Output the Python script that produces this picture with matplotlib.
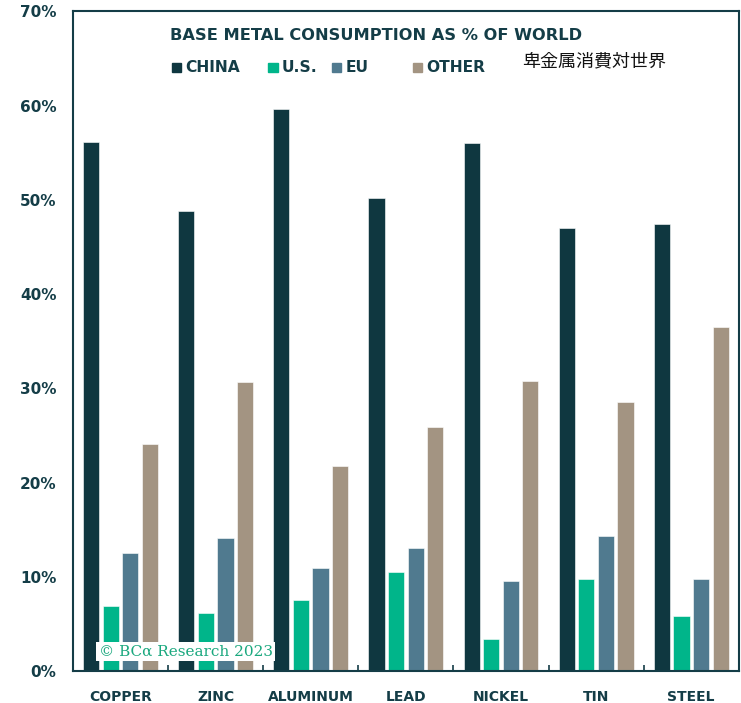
import matplotlib
matplotlib.use("Agg")
import matplotlib.pyplot as plt
import numpy as np

metals = ["COPPER", "ZINC", "ALUMINUM", "LEAD", "NICKEL", "TIN", "STEEL"]
china = [56.1, 48.8, 59.6, 50.2, 56.0, 47.0, 47.4]
us = [6.9, 6.2, 7.5, 10.5, 3.4, 9.8, 5.8]
eu = [12.5, 14.1, 10.9, 13.1, 9.5, 14.3, 9.8]
other = [24.1, 30.7, 21.7, 25.9, 30.8, 28.5, 36.5]
series_names = ["CHINA", "U.S.", "EU", "OTHER"]
yticks = [0, 10, 20, 30, 40, 50, 60, 70]

colors = ["#0f3740", "#00b58a", "#507a8f", "#a39482"]
txt = "#143d47"
FONT = "DejaVu Sans"

fig = plt.figure(figsize=(7.41, 7.03), dpi=100)
ax = fig.add_axes([0.0985, 0.0455, 0.8985, 0.9385])

x = np.arange(len(metals))
step = 0.206
width = 0.17
for i, (vals, c, name) in enumerate(zip([china, us, eu, other], colors, series_names)):
    ax.bar(x + (i - 1.5) * step, vals, width=width, color=c, label=name,
           edgecolor="white", linewidth=0.4, zorder=2)

ax.set_xlim(-0.5, len(metals) - 0.5)
ax.set_ylim(0, 70)
ax.set_yticks(yticks)
ax.set_yticklabels([f"{v}%" for v in yticks], fontfamily=FONT, fontweight="bold",
                   fontsize=11, color=txt)
ax.tick_params(axis="y", length=0, pad=12)
ax.set_xticks(x)
ax.set_xticklabels(metals, fontfamily=FONT, fontweight="bold", fontsize=10, color=txt)
ax.tick_params(axis="x", which="major", length=0, pad=14)
ax.set_xticks(x[:-1] + 0.5, minor=True)
ax.tick_params(axis="x", which="minor", direction="in", length=4, width=1.2, color=txt)
for s in ax.spines.values():
    s.set_color(txt)
    s.set_linewidth(1.5)

fig.text(0.229, 0.949, "BASE METAL CONSUMPTION AS % OF WORLD", fontfamily=FONT,
         fontweight="bold", fontsize=11.7, color=txt, va="center", ha="left")

leg_x = [0.232, 0.362, 0.448, 0.557]
for lx, c, name in zip(leg_x, colors, series_names):
    fig.patches.append(plt.Rectangle((lx, 0.8975), 0.0125, 0.0135, transform=fig.transFigure,
                                     color=c, figure=fig))
    fig.text(lx + 0.018, 0.904, name, fontfamily=FONT, fontweight="bold",
             fontsize=11.2, color=txt, va="center", ha="left")

fig.text(0.704, 0.913, "卑金属消費対世界", fontfamily=["Noto Sans CJK JP", "DejaVu Sans"],
         fontsize=13, color="#111111", va="center", ha="left")

fig.text(0.133, 0.073, "© BCα Research 2023", fontfamily="DejaVu Serif", fontsize=11,
         color="#1aa87e", va="center", ha="left",
         bbox=dict(facecolor="white", edgecolor="none", pad=2))

fig.savefig("out.png", dpi=100)
